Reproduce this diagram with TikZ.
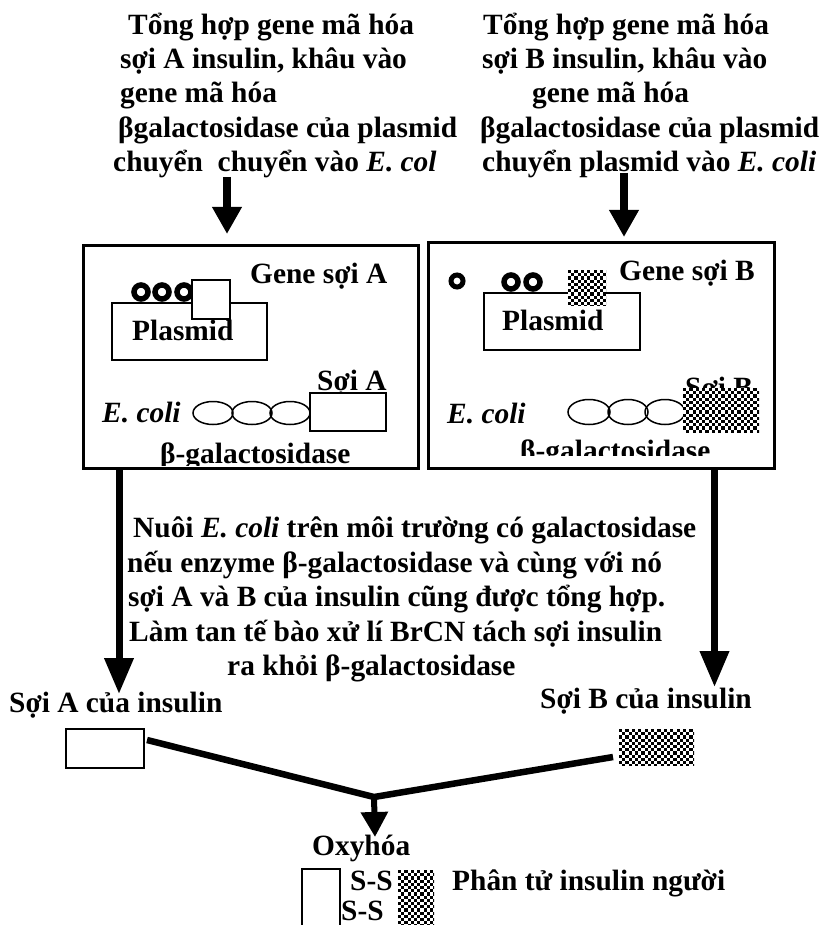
\documentclass[tikz,border=0pt]{standalone}
\usepackage{fontspec}
\setmainfont{Liberation Serif}
\usetikzlibrary{arrows.meta,shapes.geometric}

% fill a rectangle with a fine black-and-white checkerboard
\newcommand\checkfill[5]{%
  \begin{scope}
    \clip (#1,#2) rectangle (#3,#4);
    \fill[white] (#1,#2) rectangle (#3,#4);
    \pgfmathtruncatemacro\cknx{ceil((#3-#1)/#5)}
    \pgfmathtruncatemacro\ckny{ceil((#4-#2)/#5)}
    \foreach \ci in {0,...,\cknx}{
      \foreach \cj in {0,...,\ckny}{
        \pgfmathtruncatemacro\ckodd{mod(\ci+\cj,2)}
        \ifnum\ckodd=0
          \fill (#1+\ci*#5,#2+\cj*#5) rectangle ++(#5,#5);
        \fi
      }}
  \end{scope}}

\begin{document}
\begin{tikzpicture}[x=1pt,y=-1pt,
  txt/.style={anchor=base west,inner sep=0pt,font=\bfseries\fontsize{29.4}{34.5}\selectfont},
  frame/.style={draw,line width=2.5pt,anchor=north west,inner sep=0pt},
  strand/.style={draw,fill=white,line width=1.7pt,anchor=north west,inner sep=0pt},
  spot/.style={anchor=north west,inner sep=0pt},
  ring/.style={draw,line width=5.5pt,circle,inner sep=0pt,minimum size=14pt},
  unit/.style={draw,line width=1.5pt,ellipse,inner sep=0pt,minimum width=40pt,minimum height=23pt},
  bigarrow/.style={line width=7pt,-{Triangle[width=28pt,length=36pt]}},
  toparrow/.style={line width=7.5pt,-{Triangle[width=28pt,length=27pt]}},
  bar/.style={line width=6.5pt,line join=miter}
]
\useasboundingbox (0,0) rectangle (839,925);

% ---------- top captions ----------
\node[txt] (tA1) at (128,35)    {Tổng hợp gene mã hóa};
\node[txt] (tA2) at (120,68.5)  {sợi A insulin, khâu vào};
\node[txt] (tA3) at (120,103)   {gene mã hóa};
\node[txt] (tA4) at (118,137.5) {βgalactosidase của plasmid};
\node[txt] (tA5) at (113,172)   {chuyển\ \ chuyển vào \textit{E. col}};

\node[txt] (tB1) at (483,35)    {Tổng hợp gene mã hóa};
\node[txt] (tB2) at (482,68.5)  {sợi B insulin, khâu vào};
\node[txt] (tB3) at (532,103)   {gene mã hóa};
\node[txt] (tB4) at (480,137.5) {βgalactosidase của plasmid};
\node[txt] (tB5) at (482,172)   {chuyển plasmid vào \textit{E. coli}};

% ---------- the two cells ----------
\node[frame,minimum width=335pt,minimum height=223pt] (boxA) at (82,244) {};
\node[frame,minimum width=346pt,minimum height=226pt] (boxB) at (427,241) {};

\coordinate (aA0) at (227,177);
\coordinate (aA1) at (227,234);
\coordinate (aB0) at (624,173);
\coordinate (aB1) at (624,237);
\draw[toparrow] (aA0) -- (aA1);
\draw[toparrow] (aB0) -- (aB1);

% cell A: plasmid with strand A gene
\node[strand,fill=none,minimum width=155pt,minimum height=57pt] (plA) at (111,302) {};
\node[ring] (rA1) at (141,292) {};
\node[ring] (rA2) at (162,292) {};
\node[ring] (rA3) at (184,292) {};
\node[strand,minimum width=38pt,minimum height=39pt] (gA) at (191,279) {};
\node[txt] (lplA) at (132,340) {Plasmid};
\node[txt] (lgA) at (250,283) {Gene sợi A};

% cell A: E. coli product
\node[txt] (lsA) at (317,390) {Sợi A};
\node[unit] (eA1) at (213,413) {};
\node[unit] (eA2) at (252,413) {};
\node[unit] (eA3) at (290,413) {};
\node[strand,minimum width=76pt,minimum height=38pt] (pA) at (309,392) {};
\node[txt] (ecA) at (102,422) {\textit{E. coli}};
\begin{scope}
  \clip (84,246) rectangle (415,465.5);
  \node[txt] (bgA) at (160,463) {β-galactosidase};
\end{scope}

% cell B: plasmid with strand B gene
\node[strand,fill=none,minimum width=156pt,minimum height=57pt] (plB) at (483,292) {};
\node[ring,line width=5pt,minimum size=12pt] (rB0) at (457,281) {};
\node[ring] (rB1) at (511,282) {};
\node[ring] (rB2) at (533,282) {};
\checkfill{568}{270}{606}{305}{3.2}
\node[spot,minimum width=38pt,minimum height=35pt] (gB) at (568,270) {};
\node[txt] (lplB) at (502,330) {Plasmid};
\node[txt] (lgB) at (619,280) {Gene sợi B};

% cell B: E. coli product
\node[txt] (lsB) at (685,397) {Sợi B};
\node[unit,minimum width=42pt,minimum height=25pt] (eB1) at (589,412) {};
\node[unit,minimum width=40pt,minimum height=25pt] (eB2) at (628,412) {};
\node[unit,minimum width=40pt,minimum height=25pt] (eB3) at (665,412) {};
\checkfill{683}{388}{759}{432}{3.2}
\node[spot,minimum width=76pt,minimum height=44pt] (pB) at (683,388) {};
\node[txt] (ecB) at (447,423) {\textit{E. coli}};
\begin{scope}
  \clip (430,244) rectangle (770,455);
  \node[txt] (bgB) at (520,460) {β-galactosidase};
\end{scope}

% ---------- culture step ----------
\coordinate (dA1) at (119,694);
\coordinate (dB1) at (714.5,687);
\draw[bigarrow] (boxA.south -| dA1) -- (dA1);
\draw[bigarrow] (boxB.south -| dB1) -- (dB1);

\node[txt] (m1) at (133,537.5) {Nuôi \textit{E. coli} trên môi trường có galactosidase};
\node[txt] (m2) at (127,572)   {nếu enzyme β-galactosidase và cùng với nó};
\node[txt] (m3) at (128,606.5) {sợi A và B của insulin cũng được tổng hợp.};
\node[txt] (m4) at (129,641)   {Làm tan tế bào xử lí BrCN tách sợi insulin};
\node[txt] (m5) at (227,675.5) {ra khỏi β-galactosidase};

% ---------- separated chains ----------
\node[txt] (lA) at (9,712)   {Sợi A của insulin};
\node[txt] (lB) at (540,708) {Sợi B của insulin};
\node[strand,line width=2pt,minimum width=78pt,minimum height=39pt] (sA) at (65,728) {};
\checkfill{619}{729}{694}{765}{3.2}
\node[spot,minimum width=75pt,minimum height=36pt] (sB) at (619,729) {};

\coordinate (jA) at (147,740);
\coordinate (jB) at (613,757);
\coordinate (join) at (374,797);
\coordinate (ox) at (375,837);
\draw[bar] (jA) -- (join) -- (jB);
\draw[line width=6pt,-{Triangle[width=26pt,length=25pt]}] (join) -- (ox);

% ---------- oxidised product ----------
\node[txt] (oxl) at (312,855) {Oxyhóa};
\node[strand,line width=2pt,minimum width=38pt,minimum height=62pt] (fA) at (301,868) {};
\checkfill{398}{870}{434}{930}{3.2}
\node[spot,minimum width=36pt,minimum height=60pt] (fB) at (398,870) {};
\node[txt] (ss1) at (350,890) {S-S};
\node[txt] (ss2) at (341,920) {S-S};
\node[txt] (ins) at (452,890) {Phân tử insulin người};
\end{tikzpicture}
\end{document}
